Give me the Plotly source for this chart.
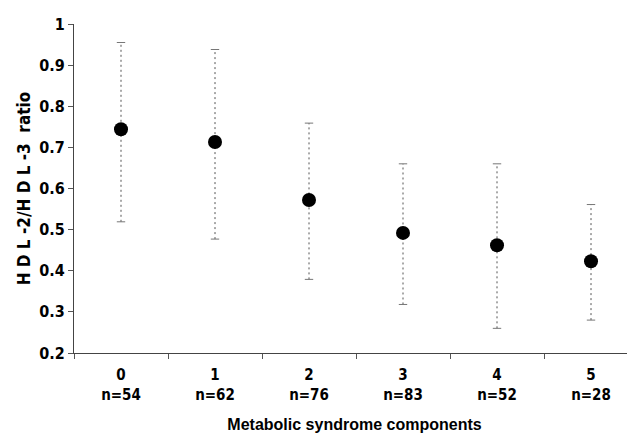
import plotly.graph_objects as go

components = ["0", "1", "2", "3", "4", "5"]
n_counts = [54, 62, 76, 83, 52, 28]
means = [0.744, 0.713, 0.572, 0.492, 0.462, 0.423]
upper = [0.955, 0.938, 0.759, 0.660, 0.660, 0.561]
lower = [0.519, 0.477, 0.379, 0.318, 0.260, 0.280]

tick_text = [f"<b>{c}<br>n={n}</b>" for c, n in zip(components, n_counts)]

NARROW = "Liberation Sans Narrow, DejaVu Sans Condensed, Liberation Sans, Arial, sans-serif"

fig = go.Figure()

# dashed range lines
lx, ly = [], []
for c, lo, hi in zip(components, lower, upper):
    lx += [c, c, None]
    ly += [lo, hi, None]
fig.add_trace(go.Scatter(x=lx, y=ly, mode="lines",
                         line=dict(color="#555555", width=1, dash="2px,3px"),
                         hoverinfo="skip", showlegend=False))
# caps
fig.add_trace(go.Scatter(x=components + components, y=upper + lower, mode="markers",
                         marker=dict(symbol="line-ew", size=6,
                                     line=dict(color="#777777", width=1)),
                         hoverinfo="skip", showlegend=False))
# means
fig.add_trace(go.Scatter(x=components, y=means, mode="markers",
                         marker=dict(color="black", size=14, symbol="circle"),
                         showlegend=False))

fig.update_layout(
    width=627, height=425,
    margin=dict(l=66, r=0, t=16, b=80),
    paper_bgcolor="white", plot_bgcolor="white",
    font=dict(family=NARROW, color="black"),
    xaxis=dict(
        type="category", categoryorder="array", categoryarray=components,
        range=[-0.5, 5.468],
        tickmode="array", tickvals=components, ticktext=tick_text,
        tickson="boundaries", ticks="outside", ticklen=5, tickcolor="#555",
        ticklabelstandoff=8,
        showline=True, linecolor="#444", linewidth=1,
        showgrid=False, zeroline=False,
        tickfont=dict(family=NARROW, size=15, color="black"),
        title=dict(text="<b>Metabolic syndrome components</b>",
                   font=dict(family="Liberation Sans, Arial, sans-serif", size=16, color="black"),
                   standoff=16),
    ),
    yaxis=dict(
        range=[0.2, 1.0], tick0=0.2, dtick=0.1,
        ticks="outside", ticklen=5, tickcolor="#555",
        showline=True, linecolor="#444", linewidth=1,
        showgrid=False, zeroline=False,
        tickprefix="<b>", ticksuffix="</b>",
        tickfont=dict(family=NARROW, size=16, color="black"),
        title=dict(text="<b>H D L -2/H D L -3  ratio</b>",
                   font=dict(family=NARROW, size=17, color="black"),
                   standoff=4),
    ),
)

fig.write_html("out.html")
